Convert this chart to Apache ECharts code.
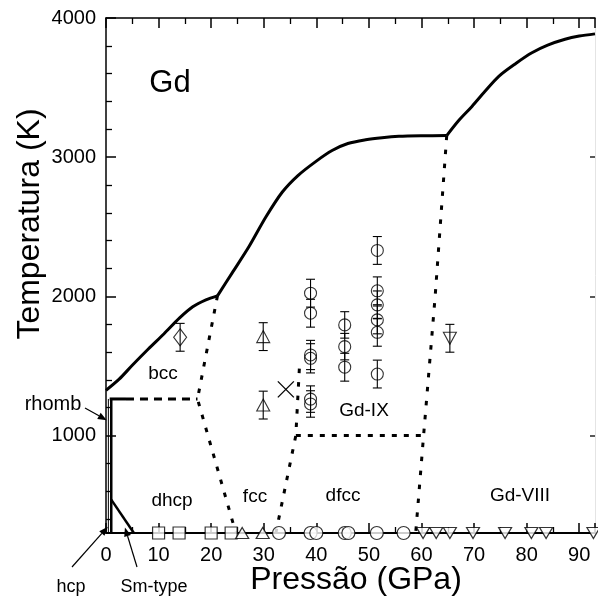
<!DOCTYPE html>
<html><head><meta charset="utf-8">
<script src="https://cdn.jsdelivr.net/npm/echarts@6/dist/echarts.min.js"></script>
<style>html,body{margin:0;padding:0;background:#fff}#c{width:598px;height:600px}</style>
</head><body><div id="c"></div>
<script>
const FONT = '"Liberation Sans", Arial, Helvetica, sans-serif';

// ---- axes ----
const xTickLabels = [0, 10, 20, 30, 40, 50, 60, 70, 80, 90];
const yMajorTicks = [1000, 2000, 3000, 4000];
const yMinorTicks = [400, 600, 800, 1200, 1400, 1600, 1800, 2200, 2400, 2600, 2800, 3200, 3400, 3600, 3800];

// ---- melting curve (three branches) ----
const meltP1 = [0, 2.5, 5, 8, 11, 14, 16.5, 19, 21.2];
const meltT1 = [1325, 1405, 1505, 1620, 1730, 1845, 1925, 1975, 2004];
const meltP2 = [21.2, 24, 27.2, 30.4, 33.5, 36.5, 40, 43, 46, 49.4, 52.5, 55.7, 60, 64.8];
const meltT2 = [2004, 2169, 2358, 2570, 2748, 2868, 2972, 3048, 3098, 3125, 3140, 3150, 3154, 3155];
const meltP3 = [64.8, 67, 69.6, 72, 74.7, 78, 81, 84, 87.3, 90, 93];
const meltT3 = [3155, 3260, 3365, 3470, 3581, 3675, 3750, 3805, 3847, 3870, 3886];

// ---- phase boundaries ----
const rhombSolidP = [0.7, 3.8];        const rhombSolidT = [1263, 1263];
const rhombDashP = [3.8, 17.4];        const rhombDashT = [1263, 1263];
const bccFccP = [21.2, 17.4, 24.7];    const bccFccT = [2004, 1263, 300];
const fccDfccP = [32.3, 36.1, 36.8];   const fccDfccT = [300, 1000, 1500];
const ixDfccP = [36.1, 60.4];          const ixDfccT = [1000, 1000];
const viiiP = [64.8, 62.6, 60.4, 58.9]; const viiiT = [3155, 2000, 1000, 300];
const hcpRhombP = [1.0, 1.0];          const hcpRhombT = [1263, 300];
const hcpThinP = [0.45, 0.45];         const hcpThinT = [1263, 300];
const smTypeP = [1.0, 5.3];            const smTypeT = [540, 300];

// ---- room-temperature data (T = 300 K) ----
const roomT = 300;
const squareP = [10, 13.9, 20, 23.8];
const triUpP = [25.9, 29.8];
const circleP = [32.9, 38.9, 40, 45.4, 46.1, 51.5, 56.6];
const triDownP = [60.3, 62.8, 65.4, 69.8, 75.9, 80.9, 83.7, 92.7];

// ---- high-temperature data with error bars ----
const diamondP = [14.1];               const diamondT = [1706];            const diamondE = [100];
const hotTriUpP = [29.9, 29.9];        const hotTriUpT = [1711, 1219];     const hotTriUpE = [100, 100];
const crossP = [34.2];                 const crossT = [1332];
const hotCircleP = [38.9, 38.9, 38.9, 38.9, 38.9, 38.9, 45.4, 45.4, 45.4, 51.6, 51.6, 51.6, 51.6, 51.6, 51.6];
const hotCircleT = [2023, 1879, 1579, 1555, 1262, 1227, 1795, 1639, 1491, 2330, 2040, 1939, 1831, 1742, 1442];
const hotCircleE = [100, 100, 105, 105, 95, 95, 95, 95, 100, 100, 100, 100, 100, 100, 100];
const hotTriDownP = [65.4];            const hotTriDownT = [1699];         const hotTriDownE = [100];

const zip = (a, b) => a.map((v, i) => [v, b[i]]);
const zip3 = (a, b, c) => a.map((v, i) => [v, b[i], c[i]]);
const DOWN_TRI = 'path://M0,0 L10,0 L5,8.66 Z';

const chart = echarts.init(document.getElementById('c'), null, {renderer: 'canvas'});

function lineSeries(data, width, dash) {
  return {
    type: 'line', data: data, symbol: 'none', smooth: false, clip: false, silent: true,
    lineStyle: {color: '#000', width: width, type: dash || 'solid', cap: 'butt'}, z: 3
  };
}
function smoothLine(data) {
  return {
    type: 'line', data: data, symbol: 'none', smooth: 0.3, clip: false, silent: true,
    lineStyle: {color: '#000', width: 3}, z: 3
  };
}
function roomScatter(ps, symbol, size) {
  return {
    type: 'scatter', data: ps.map(p => [p, roomT]), symbol: symbol, symbolSize: size, clip: false, silent: true,
    itemStyle: {color: '#fff', borderColor: '#000', borderWidth: 1.2}, z: 5
  };
}
function hotScatter(ps, ts, symbol, size) {
  return {
    type: 'scatter', data: zip(ps, ts), symbol: symbol, symbolSize: size, clip: false, silent: true,
    itemStyle: {color: 'rgba(0,0,0,0)', borderColor: '#000', borderWidth: 1.1}, z: 5
  };
}
function errSeries(data) {
  return {
    type: 'custom', data: data, clip: false, silent: true, z: 4,
    encode: {x: 0, y: 1},
    renderItem: function (params, api) {
      const p = api.value(0), t = api.value(1), e = api.value(2);
      const top = api.coord([p, t + e]);
      const bot = api.coord([p, t - e]);
      const w = 4.5;
      const st = {stroke: '#000', lineWidth: 1.1};
      return {type: 'group', children: [
        {type: 'line', shape: {x1: top[0], y1: top[1], x2: bot[0], y2: bot[1]}, style: st},
        {type: 'line', shape: {x1: top[0] - w, y1: top[1], x2: top[0] + w, y2: top[1]}, style: st},
        {type: 'line', shape: {x1: bot[0] - w, y1: bot[1], x2: bot[0] + w, y2: bot[1]}, style: st}
      ]};
    }
  };
}
const crossSeries = {
  type: 'custom', data: zip(crossP, crossT), clip: false, silent: true, z: 5,
  encode: {x: 0, y: 1},
  renderItem: function (params, api) {
    const c = api.coord([api.value(0), api.value(1)]);
    const s = 8;
    const st = {stroke: '#000', lineWidth: 1.3};
    return {type: 'group', children: [
      {type: 'line', shape: {x1: c[0] - s, y1: c[1] - s, x2: c[0] + s, y2: c[1] + s}, style: st},
      {type: 'line', shape: {x1: c[0] - s, y1: c[1] + s, x2: c[0] + s, y2: c[1] - s}, style: st}
    ]};
  }
};

const axisLabelStyle = {color: '#000', fontSize: 20, fontFamily: FONT};
const xCommon = {type: 'value', min: 0, max: 93, interval: 10, splitLine: {show: false}};
const yCommon = {type: 'value', min: 300, max: 4000, splitLine: {show: false}};

const option = {
  backgroundColor: '#fff',
  animation: false,
  grid: {left: 106, right: 2, top: 18, bottom: 67, containLabel: false},
  xAxis: [
    Object.assign({}, xCommon, {
      position: 'bottom',
      axisLine: {show: true, lineStyle: {color: '#000', width: 2}},
      axisTick: {show: true, inside: true, length: 10, lineStyle: {color: '#000', width: 1.5}},
      minorTick: {show: true, splitNumber: 2, length: 6, lineStyle: {color: '#000', width: 1.3}},
      axisLabel: Object.assign({margin: 12, formatter: v => xTickLabels.indexOf(v) >= 0 ? String(v) : ''}, axisLabelStyle)
    }),
    Object.assign({}, xCommon, {
      position: 'top',
      axisLine: {show: true, lineStyle: {color: '#000', width: 1.5}},
      axisTick: {show: true, inside: true, length: 10, lineStyle: {color: '#000', width: 1.5}},
      minorTick: {show: true, splitNumber: 2, length: 6, lineStyle: {color: '#000', width: 1.3}},
      axisLabel: {show: false}
    })
  ],
  yAxis: [
    Object.assign({}, yCommon, {
      position: 'left',
      axisLine: {show: true, lineStyle: {color: '#000', width: 1.5}},
      axisTick: {show: true, inside: true, length: 10, customValues: yMajorTicks, lineStyle: {color: '#000', width: 1.5}},
      axisLabel: Object.assign({margin: 10, customValues: yMajorTicks, formatter: v => String(v)}, axisLabelStyle)
    }),
    Object.assign({}, yCommon, {
      position: 'left',
      axisLine: {show: false},
      axisTick: {show: true, inside: true, length: 6, customValues: yMinorTicks, lineStyle: {color: '#000', width: 1.3}},
      axisLabel: {show: false}
    }),
    Object.assign({}, yCommon, {
      position: 'right',
      axisLine: {show: true, lineStyle: {color: '#e4e4e4', width: 1}},
      axisTick: {show: true, inside: true, length: 5, customValues: yMajorTicks, lineStyle: {color: '#222', width: 1.5}},
      axisLabel: {show: false}
    })
  ],
  series: [
    smoothLine(zip(meltP1, meltT1)),
    smoothLine(zip(meltP2, meltT2)),
    smoothLine(zip(meltP3, meltT3)),
    lineSeries(zip(rhombSolidP, rhombSolidT), 3),
    lineSeries(zip(rhombDashP, rhombDashT), 3, [8, 6]),
    lineSeries(zip(bccFccP, bccFccT), 3, [4.5, 9]),
    lineSeries(zip(fccDfccP, fccDfccT), 3, [4.5, 9]),
    lineSeries(zip(ixDfccP, ixDfccT), 3, [5, 7]),
    lineSeries(zip(viiiP, viiiT), 3, [4.5, 9.5]),
    lineSeries(zip(hcpRhombP, hcpRhombT), 2.5),
    lineSeries(zip(hcpThinP, hcpThinT), 1),
    lineSeries(zip(smTypeP, smTypeT), 2.5),
    roomScatter(squareP, 'rect', 12),
    roomScatter(triUpP, 'triangle', [13, 11]),
    roomScatter(circleP, 'circle', 13),
    roomScatter(triDownP, DOWN_TRI, [13, 11]),
    errSeries(zip3(diamondP, diamondT, diamondE)),
    errSeries(zip3(hotTriUpP, hotTriUpT, hotTriUpE)),
    errSeries(zip3(hotCircleP, hotCircleT, hotCircleE)),
    errSeries(zip3(hotTriDownP, hotTriDownT, hotTriDownE)),
    hotScatter(diamondP, diamondT, 'diamond', [13, 17]),
    hotScatter(hotTriUpP, hotTriUpT, 'triangle', [13, 12]),
    hotScatter(hotCircleP, hotCircleT, 'circle', 12),
    hotScatter(hotTriDownP, hotTriDownT, DOWN_TRI, [13, 12]),
    crossSeries
  ]
};
chart.setOption(option);

// ---- annotations ----
function px(p, t) { return chart.convertToPixel({gridIndex: 0}, [p, t]); }
function txt(x, y, s, size) {
  return {type: 'text', x: x, y: y, silent: true, z: 10,
    style: {text: s, fill: '#000', font: size + 'px ' + FONT, textAlign: 'center', textVerticalAlign: 'middle'}};
}
function arrow(x1, y1, tip) {
  const x2 = tip[0], y2 = tip[1];
  const ang = Math.atan2(y2 - y1, x2 - x1);
  const L = 9, W = 3.5;
  const bx = x2 - L * Math.cos(ang), by = y2 - L * Math.sin(ang);
  const nx = -Math.sin(ang) * W, ny = Math.cos(ang) * W;
  return [
    {type: 'line', silent: true, z: 10, shape: {x1: x1, y1: y1, x2: bx, y2: by}, style: {stroke: '#000', lineWidth: 1.2}},
    {type: 'polygon', silent: true, z: 10, shape: {points: [[x2, y2], [bx + nx, by + ny], [bx - nx, by - ny]]}, style: {fill: '#000'}}
  ];
}
const g = [];
g.push(txt(170, 83, 'Gd', 31));
g.push(txt(163, 374, 'bcc', 19));
g.push(txt(172, 501, 'dhcp', 19));
g.push(txt(255, 497, 'fcc', 19));
g.push(txt(343, 496, 'dfcc', 19));
g.push(txt(364, 411, 'Gd-IX', 19));
g.push(txt(520, 496, 'Gd-VIII', 19));
g.push(txt(53, 404, 'rhomb', 20));
g.push(txt(71, 587, 'hcp', 18));
g.push(txt(154, 587, 'Sm-type', 18));
arrow(85, 408, px(0.15, 1110)).forEach(e => g.push(e));
arrow(72, 567, px(0.35, 345)).forEach(e => g.push(e));
arrow(137, 567, px(3.6, 340)).forEach(e => g.push(e));
// axis titles
g.push({type: 'text', x: 30, y: 224, rotation: Math.PI / 2, silent: true, z: 10,
  style: {text: 'Temperatura (K)', fill: '#000', font: '32px ' + FONT, textAlign: 'center', textVerticalAlign: 'middle'}});
g.push({type: 'text', x: 356, y: 580, silent: true, z: 10,
  style: {text: 'Pressão (GPa)', fill: '#000', font: '32px ' + FONT, textAlign: 'center', textVerticalAlign: 'middle'}});
chart.setOption({graphic: {elements: g}});
</script>
</body></html>
